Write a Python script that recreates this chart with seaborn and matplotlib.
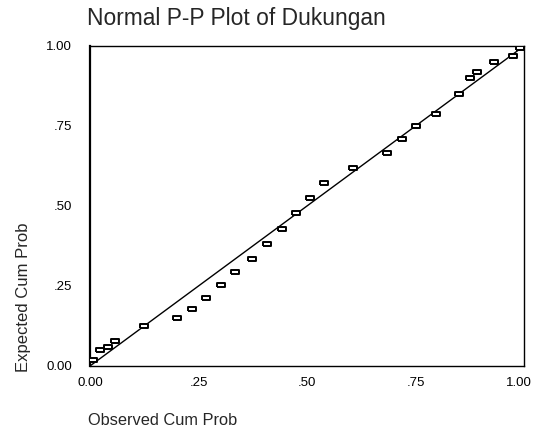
import matplotlib
matplotlib.use("Agg")
import matplotlib.pyplot as plt
import matplotlib.transforms as mtransforms
import seaborn as sns
import pandas as pd

observed = [0.008, 0.023, 0.042, 0.058, 0.124, 0.201, 0.234, 0.267, 0.301, 0.335,
            0.374, 0.408, 0.442, 0.474, 0.507, 0.540, 0.607, 0.684, 0.720, 0.750,
            0.797, 0.851, 0.876, 0.891, 0.932, 0.975, 0.991]
expected = [0.019, 0.050, 0.060, 0.079, 0.125, 0.151, 0.179, 0.212, 0.252, 0.293,
            0.333, 0.381, 0.429, 0.477, 0.524, 0.573, 0.620, 0.665, 0.709, 0.750,
            0.787, 0.850, 0.901, 0.918, 0.951, 0.970, 0.993]
ref_line = [0.0, 1.0]
tick_vals = [0.0, 0.25, 0.5, 0.75, 1.0]
tick_labels = ["0.00", ".25", ".50", ".75", "1.00"]

df = pd.DataFrame({"observed": observed, "expected": expected})

sns.set_style("white")
plt.rcParams["font.family"] = ["Liberation Sans", "DejaVu Sans"]

fig = plt.figure(figsize=(5.34, 4.36), dpi=100)
ax = fig.add_axes([0.1685, 0.1606, 0.8128, 0.7339])

sns.lineplot(x=ref_line, y=ref_line, ax=ax, color="black", linewidth=1.0)
rect = [(-1.6, -1), (1.6, -1), (1.6, 1), (-1.6, 1), (-1.6, -1)]
sns.scatterplot(data=df, x="observed", y="expected", ax=ax, marker=rect, s=26,
                facecolor="white", edgecolor="black", linewidth=1.4, zorder=3)

ax.set_xlim(0, 1)
ax.set_ylim(0, 1)
ax.set_xticks(tick_vals)
ax.set_xticklabels(tick_labels)
ax.set_yticks(tick_vals)
ax.set_yticklabels(tick_labels)
ax.tick_params(axis="both", direction="out", length=3, width=1, labelsize=9.5,
               colors="black")
ax.tick_params(axis="y", pad=10)
ax.tick_params(axis="x", pad=5)
# keep the last x label inside the figure, as in the original
last = ax.get_xticklabels()[-1]
last.set_transform(last.get_transform() +
                   mtransforms.ScaledTranslation(-5 / 100, 0, fig.dpi_scale_trans))
ax.set_xlabel("")
ax.set_ylabel("")
for name, sp in ax.spines.items():
    sp.set_visible(True)
    sp.set_color("black")
    sp.set_linewidth(1.0)
ax.spines["left"].set_linewidth(1.6)

fig.text(87 / 534, 1 - 18 / 436, "Normal P-P Plot of Dukungan", fontsize=16.4,
         ha="left", va="center")
fig.text(88 / 534, 1 - 420 / 436, "Observed Cum Prob", fontsize=11.8,
         ha="left", va="center")
fig.text(24 / 534, 1 - 297 / 436, "Expected Cum Prob", fontsize=12,
         ha="center", va="center", rotation=90)

fig.savefig("out.png", dpi=100)
